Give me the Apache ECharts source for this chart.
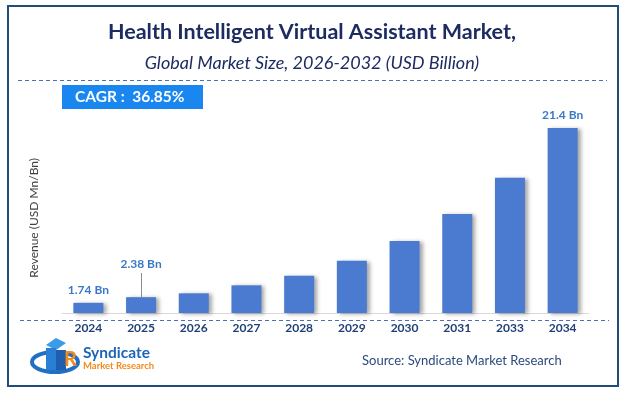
<!DOCTYPE html>
<html>
<head>
<meta charset="utf-8">
<script src="https://cdn.jsdelivr.net/npm/echarts@6/dist/echarts.min.js"></script>
<style>
html,body{margin:0;padding:0;background:#fff;}
#chart{width:624px;height:395px;}
</style>
</head>
<body>
<div id="chart"></div>
<script>
var categories = ['2024','2025','2026','2027','2028','2029','2030','2031','2033','2034'];
var values = [1.74, 2.38, 2.81, 3.71, 4.79, 6.47, 8.70, 11.73, 15.81, 21.4];
var valueLabels = ['1.74 Bn','2.38 Bn','','','','','','','','21.4 Bn'];
var leaderTop = 5.1;
var titleText = 'Health Intelligent Virtual Assistant Market,';
var subtitleText = 'Global Market Size, 2026-2032 (USD Billion)';
var cagrText = 'CAGR :  36.85%';
var yAxisName = 'Revenue (USD Mn/Bn)';
var sourceText = 'Source: Syndicate Market Research';

var FONT = 'Lato';
var chart = echarts.init(document.getElementById('chart'), null, {renderer:'canvas'});

var labelStyle = {show:true, position:'top', fontFamily:FONT, fontWeight:'bold', fontSize:12, color:'#3a78c6'};
var seriesData = values.map(function(v, i){
  var item = {value:v};
  if (valueLabels[i]) {
    item.label = Object.assign({}, labelStyle, {formatter: valueLabels[i], distance: (i === 1 ? 27 : 7)});
  }
  return item;
});

chart.setOption({
  backgroundColor:'#ffffff',
  animation:false,
  title:[
    {text:titleText, left:'center', top:16, textStyle:{fontFamily:FONT, fontSize:21.5, fontWeight:'bold', color:'#1c2b62'}},
    {text:subtitleText, left:'center', top:49, textStyle:{fontFamily:FONT, fontSize:18, fontWeight:'normal', fontStyle:'italic', color:'#1c2b62'}}
  ],
  grid:{left:62, right:35, top:122.7, bottom:82, containLabel:false},
  xAxis:{
    type:'category', data:categories,
    axisLine:{show:true, lineStyle:{color:'#d9d9d9', width:1}},
    axisTick:{show:false},
    axisLabel:{fontFamily:FONT, fontWeight:'bold', fontSize:12, color:'#203f74', margin:9}
  },
  yAxis:{
    type:'value', min:0.6, max:22,
    splitLine:{show:false}, axisLine:{show:false}, axisTick:{show:false}, axisLabel:{show:false},
    name:yAxisName, nameLocation:'middle', nameGap:22,
    nameTextStyle:{fontFamily:FONT, fontSize:12, color:'#404040'}
  },
  series:[{
    type:'bar', data:seriesData, barWidth:30,
    itemStyle:{color:'#4a7bd0', shadowColor:'rgba(0,0,0,0.35)', shadowBlur:4, shadowOffsetX:3, shadowOffsetY:1},
    label:{show:false},
    markLine:{
      silent:true, symbol:['none','none'],
      label:{show:false},
      lineStyle:{color:'#8c8c8c', width:1, type:'solid'},
      data:[[{coord:[categories[1], values[1]]},{coord:[categories[1], leaderTop]}]]
    }
  }],
  graphic:[
    {type:'rect', shape:{x:8, y:6, width:610, height:380}, style:{fill:'none', stroke:'#1f4e79', lineWidth:2}, z:-1},
    {type:'line', shape:{x1:18, y1:80.5, x2:607, y2:80.5}, style:{stroke:'#4a72b0', lineWidth:1, lineDash:[4,3]}},
    {type:'line', shape:{x1:20, y1:320.5, x2:609, y2:320.5}, style:{stroke:'#4a72b0', lineWidth:1, lineDash:[4,3]}},
    {type:'rect', shape:{x:62, y:85, width:141, height:24}, style:{fill:'#1a87f0'}},
    {type:'text', x:75, y:97, style:{text:cagrText, fill:'#ffffff', font:'bold 15.5px '+FONT, textVerticalAlign:'middle'}},
    {type:'text', x:362, y:361, style:{text:sourceText, fill:'#2a4a7f', font:'13px '+FONT, textVerticalAlign:'middle'}},
    {type:'group', children:[
      {type:'ellipse', shape:{cx:55, cy:362, rx:23, ry:10}, style:{fill:'none', stroke:'#1f6fc4', lineWidth:4}},
      {type:'polygon', shape:{points:[[46,345],[56,338],[66,343],[56,350]]}, style:{fill:'#3a9be8'}},
      {type:'rect', shape:{x:46, y:348, width:10, height:22}, style:{fill:'#2a7fd4'}},
      {type:'rect', shape:{x:56, y:350, width:10, height:20}, style:{fill:'#1d5fae'}},
      {type:'text', x:64, y:360, style:{text:'R', fill:'#f28a1e', font:'bold 20px '+FONT, textVerticalAlign:'middle'}},
      {type:'text', x:83, y:353, style:{text:'Syndicate', fill:'#1d64b8', font:'bold 15.5px '+FONT, textVerticalAlign:'middle'}},
      {type:'text', x:83, y:366, style:{text:'Market Research', fill:'#f28a1e', font:'bold 9.5px '+FONT, textVerticalAlign:'middle'}}
    ]}
  ]
});
</script>
</body>
</html>
